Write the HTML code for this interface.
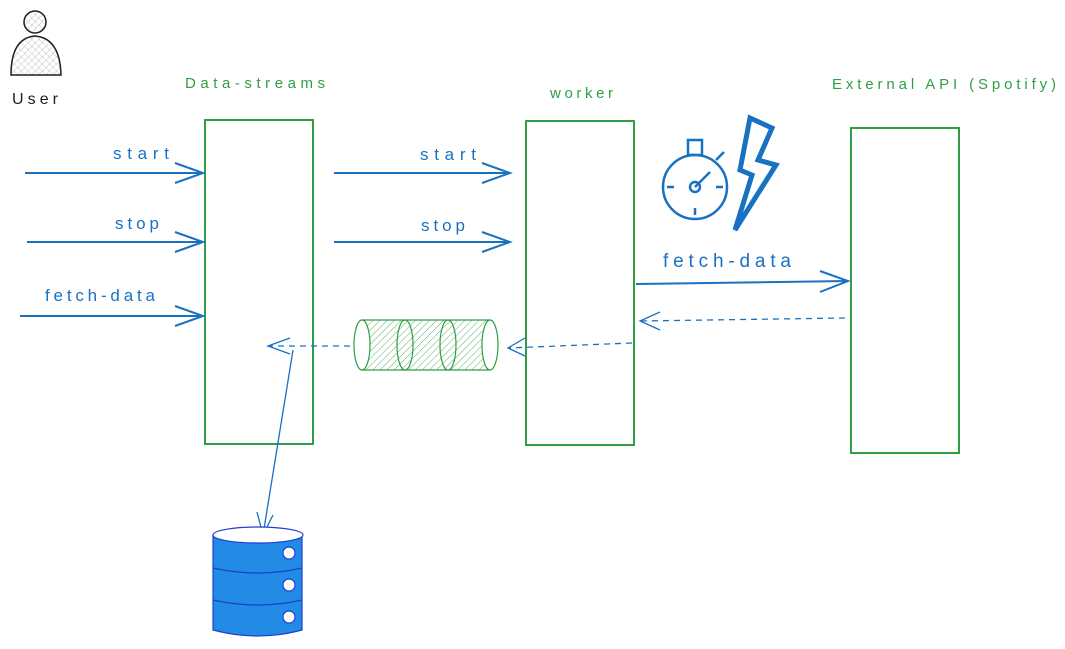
<!DOCTYPE html>
<html><head><meta charset="utf-8"><style>
html,body{margin:0;padding:0;background:#fff;width:1065px;height:649px;overflow:hidden}
svg text{font-family:"Liberation Sans",sans-serif}
</style></head><body>
<svg width="1065" height="649" viewBox="0 0 1065 649" xmlns="http://www.w3.org/2000/svg">
<defs>
<pattern id="h" width="5" height="5" patternUnits="userSpaceOnUse" patternTransform="rotate(45)"><line x1="0" y1="0" x2="0" y2="5" stroke="#2f9e44" stroke-width="0.8"/></pattern>
<pattern id="x" width="5" height="5" patternUnits="userSpaceOnUse" patternTransform="rotate(45)"><path d="M0 0V5M0 0H5" stroke="#999" stroke-width="0.6"/></pattern>
</defs>
<circle cx="35" cy="22" r="11" fill="url(#x)" stroke="#1e1e1e" stroke-width="1.5"/>
<path d="M11 75 Q11 38 35 36 Q60 38 61 75 Z" fill="url(#x)" stroke="#1e1e1e" stroke-width="1.5"/>
<text x="12" y="104" font-size="16" fill="#1e1e1e" textLength="46">User</text>
<g fill="#2f9e44" font-size="15">
<text x="185" y="88" textLength="140">Data-streams</text>
<text x="550" y="98" textLength="63">worker</text>
<text x="832" y="89" textLength="224">External API (Spotify)</text>
</g>
<g fill="none" stroke="#2f9e44" stroke-width="2">
<rect x="205" y="120" width="108" height="324"/>
<rect x="526" y="121" width="108" height="324"/>
<rect x="851" y="128" width="108" height="325"/>
</g>
<g stroke="#1971c2" stroke-width="2" fill="none">
<path d="M25 173H203M175 163L203 173L175 183"/>
<path d="M27 242H203M175 232L203 242L175 252"/>
<path d="M20 316H203M175 306L203 316L175 326"/>
<path d="M334 173H510M482 163L510 173L482 183"/>
<path d="M334 242H510M482 232L510 242L482 252"/>
<path d="M636 284L848 281M820 271L848 281L820 292"/>
<path d="M845 318L640 321" stroke-dasharray="6 5" stroke-width="1.3"/>
<path d="M660 312L640 321L660 330" stroke-width="1.3"/>
<path d="M632 343L508 348" stroke-dasharray="6 5" stroke-width="1.3"/>
<path d="M525 338L508 348L525 356" stroke-width="1.3"/>
<path d="M350 346L268 346" stroke-dasharray="6 5" stroke-width="1.3"/>
<path d="M290 338L268 346L290 354" stroke-width="1.3"/>
<path d="M293 350L263 535" stroke-width="1.3"/>
<path d="M257 512L263 535L273 515" stroke-width="1.3"/>
</g>
<g fill="#1971c2" font-size="17">
<text x="113" y="159" textLength="56">start</text>
<text x="115" y="229" textLength="44">stop</text>
<text x="45" y="301" textLength="110">fetch-data</text>
<text x="420" y="160" textLength="56">start</text>
<text x="421" y="231" textLength="44">stop</text>
<text x="663" y="267" font-size="19" textLength="128">fetch-data</text>
</g>
<path d="M362 320H490V370H362Z" fill="url(#h)" stroke="#2f9e44" stroke-width="1.2"/>
<ellipse cx="362" cy="345" rx="8" ry="25" fill="#fff" stroke="#2f9e44" stroke-width="1.2"/>
<ellipse cx="405" cy="345" rx="8" ry="25" fill="none" stroke="#2f9e44" stroke-width="1.2"/>
<ellipse cx="448" cy="345" rx="8" ry="25" fill="none" stroke="#2f9e44" stroke-width="1.2"/>
<ellipse cx="490" cy="345" rx="8" ry="25" fill="#fff" stroke="#2f9e44" stroke-width="1.2"/>
<g stroke="#1971c2" stroke-width="2.5" fill="none">
<circle cx="695" cy="187" r="32"/>
<rect x="688" y="140" width="14" height="15"/>
<path d="M716 160L724 152"/>
<path d="M695 187L710 172"/>
<circle cx="695" cy="187" r="5"/>
<path d="M667 187H674M716 187H723M695 215V208"/>
<path d="M750 118L772 128L758 160L776 165L735 230L752 175L740 170Z" stroke-width="5"/>
</g>
<g stroke="#1e3fd0" stroke-width="1.2">
<path d="M213 535V630Q258 642 302 630V535Z" fill="#228be6"/>
<ellipse cx="258" cy="535" rx="45" ry="8" fill="#fff"/>
<path d="M213 568Q258 578 302 568M213 600Q258 610 302 600" fill="none"/>
<circle cx="289" cy="553" r="6" fill="#fff"/>
<circle cx="289" cy="585" r="6" fill="#fff"/>
<circle cx="289" cy="617" r="6" fill="#fff"/>
</g>
</svg>
</body></html>
